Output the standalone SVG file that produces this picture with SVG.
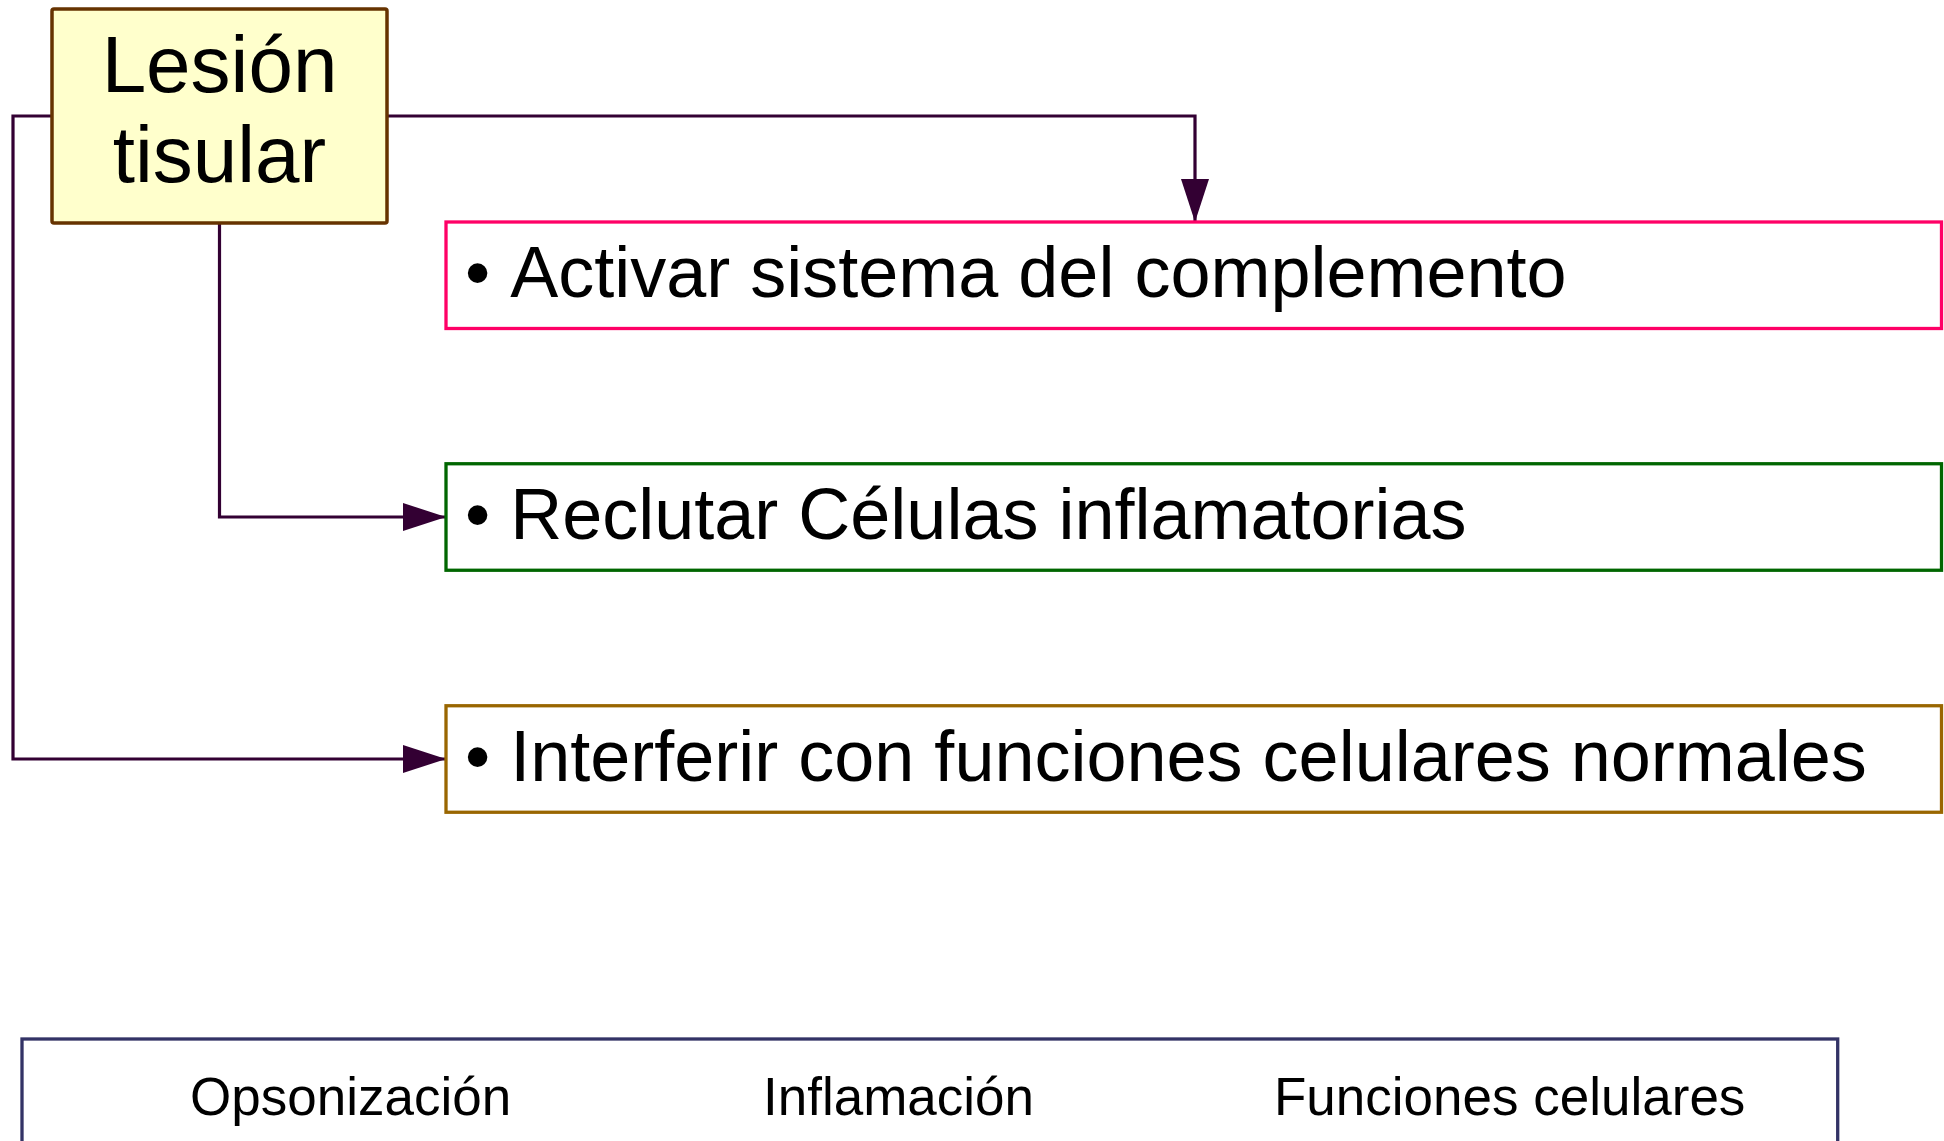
<svg xmlns="http://www.w3.org/2000/svg" width="1944" height="1141" viewBox="0 0 1944 1141">
  <defs>
    <style>
      text { font-kerning: none; }
      .conn { fill: none; stroke: #330033; stroke-width: 3.2; stroke-linejoin: miter; }
      .item { fill: #ffffff; stroke-width: 3.3; }
      .itxt { font-family: "Liberation Sans", Arial, sans-serif; font-size: 72px; fill: #000000; }
      .btxt { font-family: "Liberation Sans", Arial, sans-serif; font-size: 53px; fill: #000000; }
      .ltxt { font-family: "Liberation Sans", Arial, sans-serif; font-size: 80px; fill: #000000; text-anchor: middle; }
    </style>
    <marker id="arrow" viewBox="0 0 43 28" refX="43" refY="14" markerWidth="43" markerHeight="28" markerUnits="userSpaceOnUse" orient="auto">
      <path d="M0,0 L43,14 L0,28 Z" fill="#330033"/>
    </marker>
  </defs>
  <rect width="1944" height="1141" fill="#ffffff"/>

  <g id="connectors">
    <path class="conn" d="M387,116 H1195 V222" marker-end="url(#arrow)"/>
    <path class="conn" d="M219.5,223 V517 H446" marker-end="url(#arrow)"/>
    <path class="conn" d="M52,116 H13 V759 H446" marker-end="url(#arrow)"/>
  </g>

  <g id="lesion">
    <rect x="52" y="9" width="335" height="214" rx="2" fill="#ffffcc" stroke="#663300" stroke-width="3.5"/>
    <text class="ltxt" x="219.5" y="92">Lesión</text>
    <text class="ltxt" x="219.5" y="182">tisular</text>
  </g>

  <g id="activar">
    <rect class="item" x="446" y="222" width="1495.5" height="106.5" stroke="#ff0066"/>
    <text class="itxt" x="465" y="297">• Activar sistema del complemento</text>
  </g>

  <g id="reclutar">
    <rect class="item" x="446" y="463.75" width="1495.5" height="106.5" stroke="#006600"/>
    <text class="itxt" x="465" y="539">• Reclutar Células inflamatorias</text>
  </g>

  <g id="interferir">
    <rect class="item" x="446" y="705.75" width="1495.5" height="106.5" stroke="#996600"/>
    <text class="itxt" x="465" y="781">• Interferir con funciones celulares normales</text>
  </g>

  <g id="resultados">
    <rect x="22" y="1039" width="1815.7" height="140" fill="#ffffff" stroke="#333366" stroke-width="3.3"/>
    <text class="btxt" x="190" y="1115">Opsonización</text>
    <text class="btxt" x="763" y="1115">Inflamación</text>
    <text class="btxt" x="1274" y="1115">Funciones celulares</text>
  </g>
</svg>
